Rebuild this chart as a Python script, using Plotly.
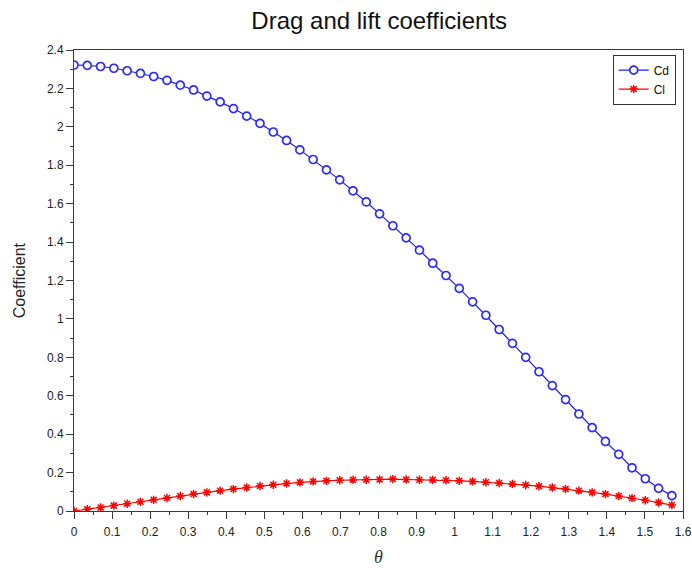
import numpy as np
import plotly.graph_objects as go

# theta in degrees 0..90 step 2, converted to radians for the axis
theta_deg = list(range(0, 92, 2))
theta = [d * np.pi / 180 for d in theta_deg]

cd = [2.322, 2.320, 2.314, 2.305, 2.292, 2.278, 2.262, 2.242, 2.217, 2.192,
      2.160, 2.130, 2.095, 2.056, 2.018, 1.973, 1.929, 1.880, 1.830, 1.776,
      1.724, 1.667, 1.609, 1.547, 1.485, 1.422, 1.358, 1.290, 1.226, 1.159,
      1.089, 1.019, 0.945, 0.873, 0.800, 0.725, 0.653, 0.580, 0.505, 0.434,
      0.362, 0.295, 0.225, 0.168, 0.118, 0.080]

cl = [0.000, 0.009, 0.018, 0.028, 0.038, 0.048, 0.058, 0.068, 0.078, 0.088,
      0.097, 0.106, 0.114, 0.122, 0.130, 0.137, 0.143, 0.149, 0.154, 0.157,
      0.160, 0.162, 0.163, 0.164, 0.166, 0.164, 0.163, 0.162, 0.160, 0.157,
      0.154, 0.150, 0.146, 0.141, 0.135, 0.129, 0.122, 0.114, 0.106, 0.097,
      0.088, 0.078, 0.067, 0.056, 0.044, 0.031]

x_ticks = [round(0.1 * i, 1) for i in range(17)]
y_ticks = [round(0.2 * i, 1) for i in range(13)]

FONT = "Liberation Sans, Arial, sans-serif"
AX = "#3a3a3a"

fig = go.Figure()
fig.add_trace(go.Scatter(
    x=theta, y=cd, name="Cd", mode="lines+markers",
    line=dict(color="#1a1aff", width=1.2),
    marker=dict(symbol="circle", size=8, color="white",
                line=dict(width=1.7, color="#2a2aff")),
))
fig.add_trace(go.Scatter(
    x=theta, y=cl, name="Cl", mode="lines+markers",
    line=dict(color="#ff0000", width=1.2),
    marker=dict(symbol="asterisk-open", size=7, color="#ff0000",
                line=dict(width=1.5, color="#ff0000")),
))

axis_common = dict(
    showgrid=False, zeroline=False, showline=True, linecolor=AX, linewidth=1,
    mirror=True, ticks="outside", ticklen=7, tickwidth=1, tickcolor=AX,
    tickfont=dict(family=FONT, size=12, color="#222222"),
    automargin=False,
)

fig.update_xaxes(
    range=[0, 1.6], tickmode="array", tickvals=x_ticks,
    ticktext=[("%g" % v) for v in x_ticks],
    minor=dict(ticks="outside", ticklen=3, dtick=0.05, tickcolor=AX, tickwidth=1, showgrid=False),
    ticklabelstandoff=3,
    **axis_common,
)
fig.update_yaxes(
    range=[0, 2.4], tickmode="array", tickvals=y_ticks,
    ticktext=[("%g" % v) for v in y_ticks],
    minor=dict(ticks="outside", ticklen=3, dtick=0.1, tickcolor=AX, tickwidth=1, showgrid=False),
    **axis_common,
)

fig.add_annotation(text="<i>θ</i>", xref="paper", yref="paper", x=0.5, y=-0.10,
                   xanchor="center", yanchor="middle", showarrow=False,
                   font=dict(family="Liberation Serif, DejaVu Serif, serif", size=18, color="#333333"))
fig.add_annotation(text="Coefficient", xref="paper", yref="paper", x=-0.089, y=0.5,
                   xanchor="center", yanchor="middle", showarrow=False, textangle=-90,
                   font=dict(family=FONT, size=16, color="#222222"))

fig.update_layout(
    width=692, height=568,
    margin=dict(l=74, r=9, t=50, b=57),
    paper_bgcolor="white", plot_bgcolor="white",
    title=dict(text="Drag and lift coefficients", x=0.548, xanchor="center",
               y=0.963, yanchor="middle",
               font=dict(family=FONT, size=24, color="#111111")),
    legend=dict(x=0.988, y=0.99, xanchor="right", yanchor="top",
                bgcolor="white", bordercolor="#333333", borderwidth=1,
                font=dict(family=FONT, size=12, color="#111111"),
                itemwidth=30, tracegroupgap=2, entrywidth=70),
    showlegend=True,
)

fig.write_html("out.html")
